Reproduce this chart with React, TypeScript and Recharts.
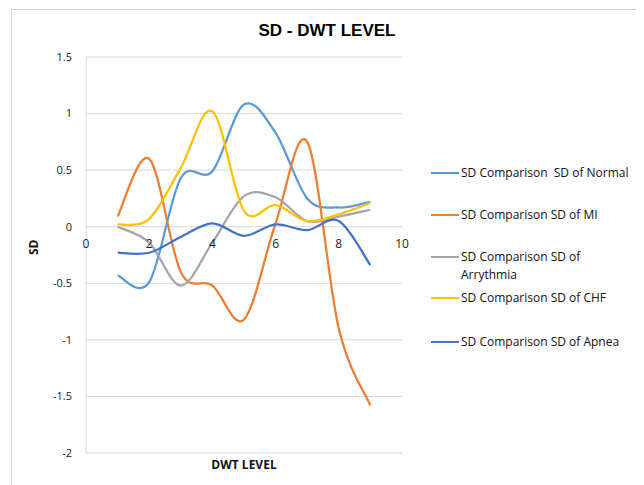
import { LineChart, Line, XAxis, YAxis, CartesianGrid, Legend } from 'recharts';

const dwtLevels = [1, 2, 3, 4, 5, 6, 7, 8, 9];
const sdNormal = [-0.43, -0.49, 0.43, 0.49, 1.08, 0.83, 0.25, 0.17, 0.22];
const sdMI = [0.09, 0.6, -0.4, -0.52, -0.82, 0.03, 0.75, -0.9, -1.58];
const sdArrythmia = [0.0, -0.14, -0.52, -0.14, 0.27, 0.26, 0.05, 0.09, 0.15];
const sdCHF = [0.02, 0.07, 0.52, 1.02, 0.14, 0.19, 0.05, 0.11, 0.21];
const sdApnea = [-0.23, -0.23, -0.09, 0.03, -0.08, 0.02, -0.03, 0.05, -0.34];
const xTicks = [0, 2, 4, 6, 8, 10];
const yTicks = [-2, -1.5, -1, -0.5, 0, 0.5, 1, 1.5];

const seriesList = [
  { key: 'normal', name: 'SD Comparison  SD of Normal', values: sdNormal, color: '#5B9BD5' },
  { key: 'mi', name: 'SD Comparison SD of MI', values: sdMI, color: '#ED7D31' },
  { key: 'arr', name: 'SD Comparison SD of\nArrythmia', values: sdArrythmia, color: '#A5A5A5' },
  { key: 'chf', name: 'SD Comparison SD of CHF', values: sdCHF, color: '#FFC000' },
  { key: 'apnea', name: 'SD Comparison SD of Apnea', values: sdApnea, color: '#4472C4' },
];

const data = dwtLevels.map((x, i) => {
  const row: Record<string, number> = { x };
  seriesList.forEach((s) => (row[s.key] = s.values[i]));
  return row;
});

// excel-like smoothing (catmull-rom as bezier)
const excelSmooth = (context: any) => {
  let pts: number[][] = [];
  return {
    areaStart() {},
    areaEnd() {},
    lineStart() {
      pts = [];
    },
    point(x: number, y: number) {
      pts.push([+x, +y]);
    },
    lineEnd() {
      if (!pts.length) return;
      context.moveTo(pts[0][0], pts[0][1]);
      for (let i = 0; i < pts.length - 1; i++) {
        const p0 = pts[i - 1] || pts[i];
        const p1 = pts[i];
        const p2 = pts[i + 1];
        const p3 = pts[i + 2] || p2;
        context.bezierCurveTo(
          p1[0] + (p2[0] - p0[0]) / 6,
          p1[1] + (p2[1] - p0[1]) / 6,
          p2[0] - (p3[0] - p1[0]) / 6,
          p2[1] - (p3[1] - p1[1]) / 6,
          p2[0],
          p2[1]
        );
      }
    },
  };
};

const PLOT_TOP = 47;
const PLOT_H = 396;
const ZERO_Y = PLOT_TOP + (PLOT_H * 1.5) / 3.5;

const XTick = ({ x, payload }: any) => (
  <text x={x} y={ZERO_Y + 17} textAnchor="middle" dominantBaseline="central" fontSize={12} fill="#222">
    {payload.value}
  </text>
);

const legendTops = [0, 42, 84, 125, 169];

const renderLegend = () => (
  <div style={{ position: 'relative', width: 210, height: 200 }}>
    {seriesList.map((s, i) => (
      <div key={s.key} style={{ position: 'absolute', top: legendTops[i], left: 0, display: 'flex' }}>
        <div style={{ width: 28, height: 2, background: s.color, marginTop: 8 }} />
        <div style={{ whiteSpace: 'pre', fontSize: 12, lineHeight: '18px', color: '#111', marginLeft: 2 }}>{s.name}</div>
      </div>
    ))}
  </div>
);

export default function App() {
  return (
    <div
      style={{
        marginLeft: 3,
        marginTop: 1,
        width: 630,
        height: 490,
        border: '1px solid #D0D0D0',
        borderBottom: 'none',
        position: 'relative',
        fontFamily: '"Open Sans", sans-serif',
      }}
    >
      <div
        style={{
          position: 'absolute',
          top: 11,
          left: 0,
          width: 630,
          textAlign: 'center',
          fontFamily: '"Liberation Sans", Arial, sans-serif',
          fontWeight: 'bold',
          fontSize: 17,
        }}
      >
        SD - DWT LEVEL
      </div>
      <LineChart width={630} height={476} data={data} margin={{ top: PLOT_TOP, right: 30, left: 10, bottom: 13 }}>
        <CartesianGrid vertical={false} stroke="#D9D9D9" />
        <XAxis
          dataKey="x"
          type="number"
          domain={[0, 10]}
          ticks={xTicks}
          axisLine={false}
          tickLine={false}
          height={20}
          tick={<XTick />}
          label={{ value: 'DWT LEVEL', position: 'insideBottom', offset: 4, fontSize: 12, fontWeight: 'bold', fill: '#111' }}
        />
        <YAxis
          type="number"
          domain={[-2, 1.5]}
          ticks={yTicks}
          width={64}
          axisLine={{ stroke: '#D9D9D9' }}
          tickLine={false}
          tickMargin={8}
          tick={{ fontSize: 11, fill: '#222' }}
          label={{ value: 'SD', angle: -90, position: 'insideLeft', offset: 12, fontSize: 12, fontWeight: 'bold', fill: '#111' }}
        />
        <Legend
          layout="vertical"
          verticalAlign="top"
          align="right"
          content={renderLegend}
          wrapperStyle={{ left: 419, top: 154, width: 210 }}
        />
        {seriesList.map((s) => (
          <Line
            key={s.key}
            dataKey={s.key}
            name={s.name}
            type={excelSmooth as any}
            stroke={s.color}
            strokeWidth={2.25}
            dot={false}
            isAnimationActive={false}
          />
        ))}
      </LineChart>
    </div>
  );
}
